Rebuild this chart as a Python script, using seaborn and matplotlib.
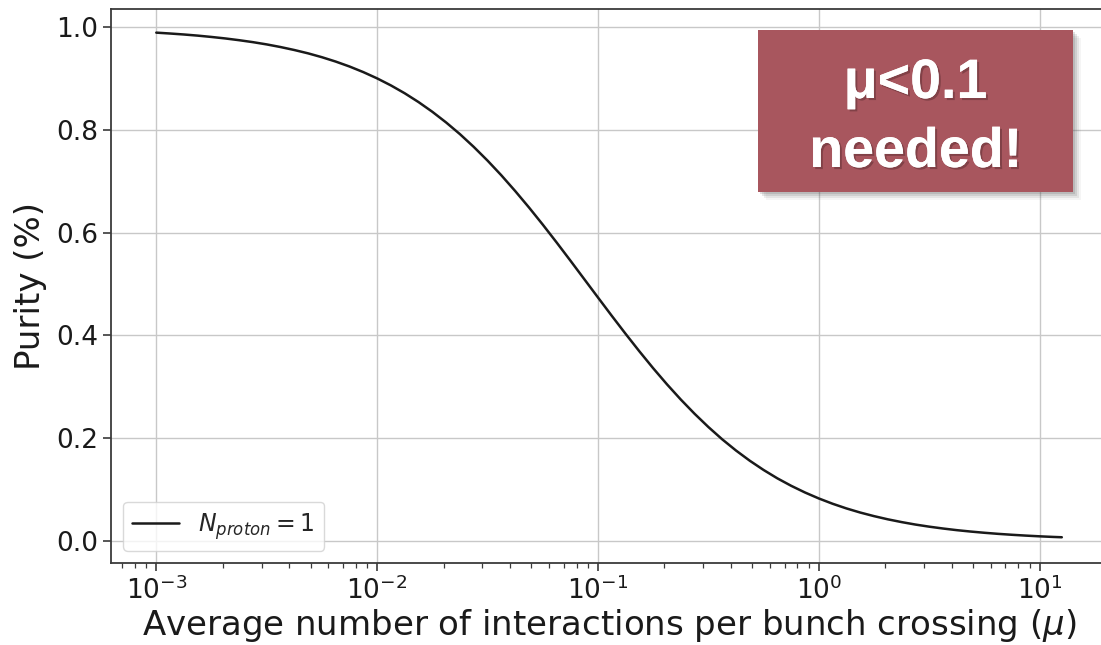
import matplotlib
matplotlib.use("Agg")
import matplotlib.pyplot as plt
import matplotlib.patheffects as pe
from matplotlib.patches import Rectangle
import pandas as pd
import seaborn as sns

# Average number of interactions per bunch crossing
mu = [0.001, 0.0011548, 0.0013335, 0.0015399, 0.0017783, 0.0020535, 0.0023714, 0.0027384,
      0.0031623, 0.0036517, 0.004217, 0.0048697, 0.0056234, 0.0064938, 0.0074989, 0.0086596,
      0.01, 0.011548, 0.013335, 0.015399, 0.017783, 0.020535, 0.023714, 0.027384,
      0.031623, 0.036517, 0.04217, 0.048697, 0.056234, 0.064938, 0.074989, 0.086596,
      0.1, 0.11548, 0.13335, 0.15399, 0.17783, 0.20535, 0.23714, 0.27384,
      0.31623, 0.36517, 0.4217, 0.48697, 0.56234, 0.64938, 0.74989, 0.86596,
      1.0, 1.1548, 1.3335, 1.5399, 1.7783, 2.0535, 2.3714, 2.7384,
      3.1623, 3.6517, 4.217, 4.8697, 5.6234, 6.4938, 7.4989, 8.6596,
      10.0, 11.548, 12.6]
# Purity for a single tagged proton
purity = [0.9890, 0.9873, 0.9854, 0.9832, 0.9806, 0.9777, 0.9743, 0.9705,
          0.9661, 0.9610, 0.9552, 0.9487, 0.9412, 0.9327, 0.9231, 0.9122,
          0.9000, 0.8863, 0.8710, 0.8539, 0.8350, 0.8142, 0.7915, 0.7667,
          0.7400, 0.7114, 0.6809, 0.6489, 0.6155, 0.5809, 0.5455, 0.5096,
          0.4737, 0.4380, 0.4030, 0.3689, 0.3360, 0.3047, 0.2751, 0.2474,
          0.2216, 0.1977, 0.1759, 0.1560, 0.1380, 0.1217, 0.1072, 0.0942,
          0.0826, 0.0723, 0.0632, 0.0552, 0.0482, 0.0420, 0.0366, 0.0318,
          0.0277, 0.0241, 0.0209, 0.0182, 0.0158, 0.0137, 0.0119, 0.0103,
          0.0089, 0.0077, 0.0071]
series_label = r"$N_{proton} = 1$"
yticks = [0.0, 0.2, 0.4, 0.6, 0.8, 1.0]

sns.set_style("ticks")
plt.rcParams["font.family"] = ["DejaVu Sans"]

df = pd.DataFrame({"mu": mu, "purity": purity, "series": series_label})

W, H = 1101, 645
fig = plt.figure(figsize=(W / 100, H / 100), dpi=100)
ax = fig.add_axes([111 / W, 82 / H, (1107 - 111) / W, (563 - 9) / H])

sns.lineplot(data=df, x="mu", y="purity", hue="series", palette=["#1a1a1a"],
             linewidth=1.8, ax=ax, sort=False)
ax.set_xscale("log")
ax.set_xlim(10 ** -3.205, 10 ** 1.305)
ax.set_ylim(-0.043, 1.035)
ax.set_yticks(yticks)
ax.set_yticklabels([f"{v:.1f}" for v in yticks])

ax.grid(True, which="major", color="#c8c8c8", linewidth=1.0)
ax.set_axisbelow(True)
for side in ["left", "bottom", "top"]:
    ax.spines[side].set_color("#3a3a3a")
    ax.spines[side].set_linewidth(1.3)
ax.spines["right"].set_visible(False)
ax.tick_params(axis="both", which="major", labelsize=19, length=6, width=1.2,
               color="#3a3a3a", labelcolor="#1a1a1a", direction="out")
ax.tick_params(axis="x", which="minor", length=3.5, width=0.9, color="#3a3a3a")

ax.set_xlabel(r"Average number of interactions per bunch crossing ($\mu$)",
              fontsize=24.5, color="#1a1a1a", labelpad=2)
ax.set_ylabel("Purity (%)", fontsize=24.5, color="#1a1a1a", labelpad=6)

leg = ax.legend(loc="lower left", fontsize=17, frameon=True, handlelength=2.0,
                borderpad=0.4, bbox_to_anchor=(0.0, 0.0))
leg.get_frame().set_edgecolor("#d0d0d0")
leg.get_frame().set_alpha(0.8)
for line in leg.get_lines():
    line.set_linewidth(1.8)

# Highlight box with soft drop shadow
bx0, bx1, by0, by1 = 758, 1073, 30, 192
for off, alpha in [(8, 0.06), (6, 0.10), (4, 0.14), (2, 0.18)]:
    fig.patches.append(Rectangle(((bx0 + off) / W, (H - by1 - off) / H),
                                 (bx1 - bx0) / W, (by1 - by0) / H,
                                 transform=fig.transFigure, facecolor="#555555",
                                 edgecolor="none", alpha=alpha, zorder=5))
fig.patches.append(Rectangle((bx0 / W, (H - by1) / H), (bx1 - bx0) / W, (by1 - by0) / H,
                             transform=fig.transFigure, facecolor="#a8565e",
                             edgecolor="none", zorder=6))
shadow = [pe.withSimplePatchShadow(offset=(1.5, -1.5), shadow_rgbFace="#3a1a1d", alpha=0.35),
          pe.Normal()]
cx = (bx0 + bx1) / 2 / W
fig.text(cx, (H - 98) / H, "μ<0.1", ha="center", va="baseline",
         fontsize=40, fontweight="bold", color="white", family="Liberation Sans",
         path_effects=shadow, zorder=7)
fig.text(cx, (H - 167) / H, "needed!", ha="center", va="baseline",
         fontsize=40, fontweight="bold", color="white", family="Liberation Sans",
         path_effects=shadow, zorder=7)

fig.savefig("out.png", dpi=100)
